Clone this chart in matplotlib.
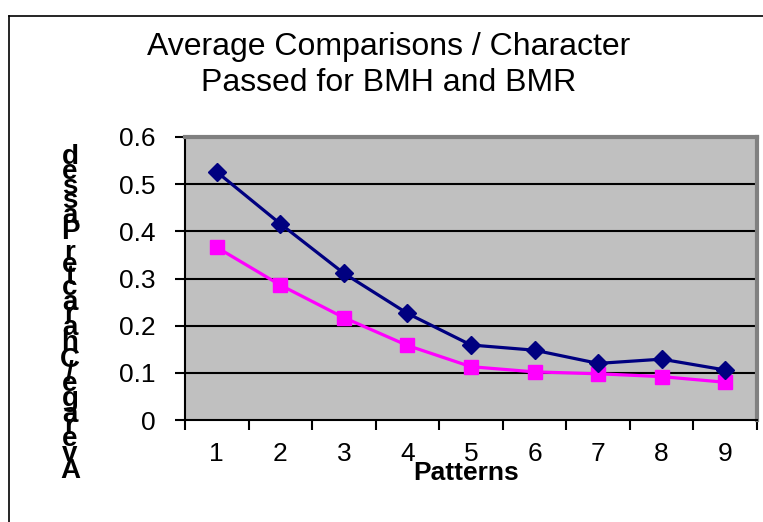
import matplotlib
matplotlib.use("Agg")
import matplotlib.pyplot as plt
from matplotlib.lines import Line2D
from matplotlib.ticker import FixedLocator, NullFormatter
from matplotlib.textpath import TextToPath
from matplotlib.font_manager import FontProperties

plt.rcParams['font.family'] = ['Liberation Sans', 'DejaVu Sans']

patterns = [1, 2, 3, 4, 5, 6, 7, 8, 9]
bmh = [0.526, 0.416, 0.311, 0.226, 0.159, 0.148, 0.120, 0.129, 0.106]
bmr = [0.366, 0.286, 0.217, 0.158, 0.113, 0.102, 0.098, 0.092, 0.080]
y_ticks = [0, 0.1, 0.2, 0.3, 0.4, 0.5, 0.6]
y_tick_labels = ['0', '0.1', '0.2', '0.3', '0.4', '0.5', '0.6']

title = 'Average Comparisons / Character\nPassed for BMH and BMR'
x_label = 'Patterns'
y_label = 'Average/Character Passed'

W, H = 763, 522
fig = plt.figure(figsize=(W / 100, H / 100), dpi=100)

# chart area border (cropped on right and bottom)
fig.add_artist(Line2D([9 / W, 9 / W], [0, 1 - 16 / H], transform=fig.transFigure, color='black', lw=1.2))
fig.add_artist(Line2D([9 / W, 1], [1 - 16 / H, 1 - 16 / H], transform=fig.transFigure, color='black', lw=1.2))

ax = fig.add_axes([185 / W, 1 - 420 / H, (757 - 185) / W, (420 - 137) / H])
ax.set_facecolor('#C0C0C0')
ax.set_xlim(0.5, 9.5)
ax.set_ylim(0, 0.6)

for v in y_ticks[1:-1]:
    ax.axhline(v, color='black', lw=1.5, zorder=1)

ax.plot(patterns, bmh, color='#000080', lw=2.3, marker='D', ms=9, zorder=3)
ax.plot(patterns, bmr, color='#FF00FF', lw=2.3, marker='s', ms=10, zorder=2)

for side in ['top', 'right']:
    ax.spines[side].set_color('#808080')
    ax.spines[side].set_linewidth(3)
for side in ['left', 'bottom']:
    ax.spines[side].set_color('black')
    ax.spines[side].set_linewidth(1.5)

ax.set_yticks(y_ticks)
ax.set_yticklabels(y_tick_labels)
ax.tick_params(axis='y', length=7, width=1.5, pad=14, labelsize=19)

# category axis: ticks between categories, labels at centres
ax.xaxis.set_major_locator(FixedLocator([p - 0.5 for p in patterns] + [9.5]))
ax.xaxis.set_major_formatter(NullFormatter())
ax.xaxis.set_minor_locator(FixedLocator(patterns))
ax.set_xticklabels([str(p) for p in patterns], minor=True)
ax.tick_params(axis='x', which='major', length=7, width=1.5)
ax.tick_params(axis='x', which='minor', length=0, pad=16, labelsize=19)

fig.text(389 / W, 1 - 65 / H, title, ha='center', va='center', fontsize=23, linespacing=1.28)
fig.text(466 / W, 1 - 473 / H, x_label, ha='center', va='center', fontsize=19, fontweight='bold')

# y label: upright letters stacked bottom to top, spaced by their advance width
prop = FontProperties(family='Liberation Sans', weight='bold', size=20)
t2p = TextToPath()
pos = 480.0
for ch in y_label:
    w = t2p.get_text_width_height_descent(ch if ch != ' ' else 'i', prop, ismath=False)[0] * 100 / 72 * 0.94
    if ch != ' ':
        fig.text(70 / W, 1 - (pos - w / 2) / H, ch, ha='center', va='center', fontproperties=prop)
    pos -= w

fig.savefig('out.png', dpi=100)
